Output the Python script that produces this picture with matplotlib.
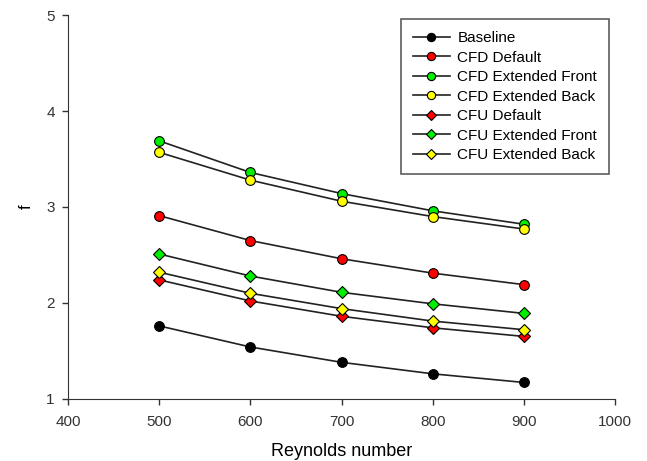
import matplotlib
matplotlib.use("Agg")
import matplotlib.pyplot as plt

plt.rcParams['font.family'] = ['Liberation Sans', 'DejaVu Sans']

reynolds = [500, 600, 700, 800, 900]
baseline = [1.76, 1.54, 1.38, 1.26, 1.17]
cfd_default = [2.91, 2.65, 2.46, 2.31, 2.19]
cfd_ext_front = [3.69, 3.36, 3.14, 2.96, 2.82]
cfd_ext_back = [3.57, 3.28, 3.06, 2.90, 2.77]
cfu_default = [2.24, 2.02, 1.86, 1.74, 1.65]
cfu_ext_front = [2.51, 2.28, 2.11, 1.99, 1.89]
cfu_ext_back = [2.32, 2.10, 1.94, 1.81, 1.72]

series = [
    ("Baseline", baseline, "o", "black"),
    ("CFD Default", cfd_default, "o", "#ff0000"),
    ("CFD Extended Front", cfd_ext_front, "o", "#00ee00"),
    ("CFD Extended Back", cfd_ext_back, "o", "#ffff00"),
    ("CFU Default", cfu_default, "D", "#ff0000"),
    ("CFU Extended Front", cfu_ext_front, "D", "#00ee00"),
    ("CFU Extended Back", cfu_ext_back, "D", "#ffff00"),
]

fig = plt.figure(figsize=(6.47, 4.61), dpi=100)
ax = fig.add_axes([0.105, 0.135, 0.846, 0.832])

for label, vals, m, c in series:
    ms = 7.0 if m == "o" else 6.0
    ax.plot(reynolds, vals, color="#222222", lw=1.2, marker=m, markersize=ms,
            markerfacecolor=c, markeredgecolor="black", markeredgewidth=0.8,
            label=label)

ax.set_xlim(400, 1000)
ax.set_ylim(1, 5)
ax.set_xticks([400, 500, 600, 700, 800, 900, 1000])
ax.set_yticks([1, 2, 3, 4, 5])
ax.spines['top'].set_visible(False)
ax.spines['right'].set_visible(False)
ax.spines['left'].set_color("#333333")
ax.spines['bottom'].set_color("#333333")
ax.tick_params(direction='out', length=4.5, width=1, labelsize=11, colors="#333333")
ax.tick_params(axis='x', pad=7)
ax.tick_params(axis='y', pad=5)
ax.set_xlabel("Reynolds number", fontsize=13, labelpad=10)
ax.set_ylabel("f", fontsize=12, labelpad=9, rotation=90)

leg = ax.legend(loc="upper right", bbox_to_anchor=(0.989, 0.990), fontsize=11,
                frameon=True, fancybox=False, handlelength=2.4,
                labelspacing=0.36, borderpad=0.8, handletextpad=0.5,
                borderaxespad=0.0, markerscale=0.85)
leg.get_frame().set_edgecolor("#333333")
leg.get_frame().set_linewidth(1.2)

fig.savefig("out.png", dpi=100)
